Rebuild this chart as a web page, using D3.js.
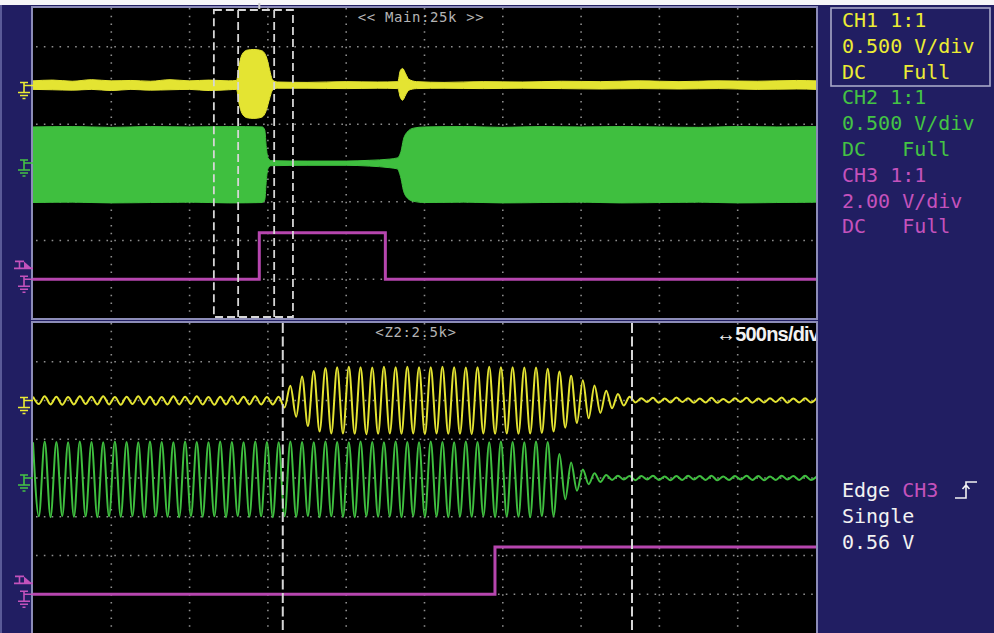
<!DOCTYPE html>
<html>
<head>
<meta charset="utf-8">
<script src="https://cdn.jsdelivr.net/npm/d3@7"></script>
<style>
  html, body { margin: 0; padding: 0; background: #ffffff; }
  svg { display: block; }
</style>
</head>
<body>
<div id="scope"></div>
<script>
// ---- data (divisions, relative to each channel's ground marker) ----
const channelOffsets = [2, 0, -3];          // CH1, CH2, CH3 ground level in div
const channelColors = ["#e4e432", "#3fbf3f", "#b646ae"];
const textColors = ["#ecec34", "#44c444", "#c452bc"];

// main (25k) window: envelopes [time div, upper, lower]
const ch1MainEnvelope = [
  [0,0.12,-0.1],[0.25,0.14,-0.11],[0.5,0.11,-0.12],[0.75,0.15,-0.1],[1,0.12,-0.13],
  [1.25,0.13,-0.1],[1.5,0.11,-0.12],[1.75,0.15,-0.11],[2,0.12,-0.1],[2.25,0.14,-0.13],
  [2.5,0.12,-0.11],[2.6,0.13,-0.1],[2.63,0.5,-0.45],[2.67,0.8,-0.72],[2.73,0.91,-0.83],
  [2.82,0.93,-0.85],[2.92,0.9,-0.82],[2.98,0.74,-0.64],[3.02,0.42,-0.35],[3.06,0.14,-0.12],
  [3.12,0.09,-0.07],[3.5,0.08,-0.07],[4,0.1,-0.08],[4.4,0.09,-0.07],[4.66,0.1,-0.08],
  [4.69,0.38,-0.3],[4.72,0.44,-0.38],[4.76,0.3,-0.24],[4.8,0.16,-0.12],[4.9,0.1,-0.08],
  [5.25,0.08,-0.07],[5.75,0.1,-0.08],[6.25,0.09,-0.07],[6.75,0.11,-0.08],[7.25,0.1,-0.09],
  [7.75,0.12,-0.08],[8.25,0.1,-0.09],[8.75,0.12,-0.08],[9.25,0.11,-0.1],[9.75,0.13,-0.09],
  [10,0.12,-0.1]
];
const ch2MainEnvelope = [
  [0,0.93,-1.02],[0.5,0.94,-1.01],[1,0.92,-1.03],[1.5,0.94,-1.02],[2,0.93,-1.01],
  [2.5,0.94,-1.03],[2.93,0.93,-1.02],[2.96,0.85,-0.95],[2.98,0.4,-0.45],[3.0,0.14,-0.15],
  [3.04,0.06,-0.07],[3.5,0.05,-0.06],[4,0.05,-0.06],[4.3,0.07,-0.08],[4.55,0.1,-0.12],
  [4.65,0.13,-0.15],[4.7,0.3,-0.4],[4.73,0.6,-0.7],[4.78,0.8,-0.9],[4.86,0.9,-0.99],
  [5,0.93,-1.02],[5.5,0.94,-1.01],[6,0.92,-1.03],[6.5,0.94,-1.02],[7,0.93,-1.01],
  [7.5,0.94,-1.03],[8,0.93,-1.02],[8.5,0.92,-1.01],[9,0.94,-1.03],[9.5,0.93,-1.02],
  [10,0.94,-1.01]
];
const ch3MainSteps = [[0,0],[2.89,1.2],[4.5,0],[10,0]];

// zoom (Z2) window: successive peaks/troughs, one every half cycle
const halfCycle = 0.0747;   // div
const ch1ZoomExtrema = [
  0.10,-0.09,0.11,-0.10,0.10,-0.11,0.09,-0.10,0.11,-0.09,
  0.10,-0.10,0.11,-0.10,0.09,-0.11,0.10,-0.09,0.11,-0.10,
  0.10,-0.11,0.09,-0.10,0.11,-0.10,0.10,-0.09,0.11,-0.10,
  0.09,-0.11,0.10,-0.10,0.11,-0.09,0.10,-0.10,0.11,-0.10,
  0.09,-0.10,0.10,
  -0.18,0.38,-0.42,0.62,-0.66,0.76,-0.80,0.84,-0.85,
  0.86,-0.85,0.87,-0.86,0.86,-0.87,0.85,-0.86,0.87,-0.85,
  0.86,-0.86,0.87,-0.85,0.86,-0.87,0.86,-0.85,0.87,-0.86,
  0.86,-0.86,0.85,-0.87,0.86,-0.85,0.87,-0.86,0.86,-0.85,
  0.86,-0.86,0.85,
  -0.85,0.85,-0.84,0.82,-0.80,0.75,-0.70,0.64,-0.58,0.52,
  -0.46,0.39,-0.32,0.25,-0.20,0.17,-0.13,0.10,
  -0.05,0.06,-0.04,0.07,-0.06,0.05,-0.05,0.08,-0.04,0.06,
  -0.06,0.05,-0.05,0.07,-0.06,0.04,-0.05,0.06,-0.04,0.07,
  -0.06,0.05,-0.05,0.06,-0.04,0.08,-0.06,0.05,-0.05,0.06,
  -0.05,0.07
];
const ch2ZoomExtrema = [
  0.92,-0.99,0.94,-1.01,0.93,-0.98,0.92,-1.0,0.94,-0.99,
  0.93,-1.01,0.92,-0.99,0.94,-1.0,0.93,-0.98,0.92,-1.01,
  0.94,-0.99,0.93,-1.0,0.92,-1.01,0.94,-0.98,0.93,-1.0,
  0.92,-0.99,0.94,-1.01,0.93,-0.98,0.92,-1.0,0.94,-0.99,
  0.93,-1.01,0.92,-0.99,0.94,-1.0,0.93,-0.98,0.92,-1.01,
  0.94,-0.99,0.93,-1.0,0.92,-1.01,0.94,-0.98,0.93,-1.0,
  0.92,-0.99,0.94,-1.01,0.93,-0.98,0.92,-1.0,0.94,-0.99,
  0.93,-1.01,0.92,-0.99,0.94,-1.0,0.93,-0.98,0.92,-1.01,
  0.94,-0.99,0.93,-1.0,0.92,-1.01,0.94,-0.98,0.93,
  -0.98,0.62,-0.55,0.40,-0.33,0.22,-0.16,0.12,-0.10,0.08,
  -0.05,0.06,-0.04,0.05,-0.06,0.05,-0.04,0.06,-0.05,0.04,
  -0.06,0.05,-0.05,0.06,-0.04,0.05,-0.05,0.06,-0.06,0.04,
  -0.05,0.05,-0.04,0.06,-0.05,0.05,-0.06,0.04,-0.05,0.06,
  -0.04,0.05,-0.05,0.06,-0.05,0.04
];
const ch3ZoomSteps = [[0,0],[5.9,1.22],[10,1.22]];

// markers on the main window (div)
const zoomBox = [2.31, 3.32];
const mainCursors = [2.62, 3.08];
const zoomCursors = [3.19, 7.65];
const triggerPos = 2.89;
const triggerLevel = 0.56;   // V
const ch3VoltsPerDiv = 2.0;

// side panel text
const channelLabels = [
  ["CH1 1:1", "0.500 V/div", "DC   Full"],
  ["CH2 1:1", "0.500 V/div", "DC   Full"],
  ["CH3 1:1", "2.00 V/div", "DC   Full"]
];
const mainLabel = "<< Main:25k >>";
const zoomLabel = "<Z2:2.5k>";
const timebaseLabel = "\u2194500ns/div";
const triggerLines = ["Single", "0.56 V"];

// ---- layout ----
const width = 994, height = 633;
const panelLeft = 33, panelRight = 816;
const panels = [
  {id: "main", top: 8, bottom: 318},
  {id: "zoom", top: 323, bottom: 633}
];

const svg = d3.select("#scope").append("svg")
  .attr("width", width).attr("height", height);

svg.append("rect").attr("width", width).attr("height", height).attr("fill", "#211e62");
svg.append("rect").attr("width", width).attr("height", 5).attr("fill", "#f6f6f8");
svg.append("rect").attr("x", 0).attr("y", 5).attr("width", 2).attr("height", height).attr("fill", "#5a5a98");

const x = d3.scaleLinear().domain([0, 10]).range([panelLeft, panelRight]);
panels.forEach(p => {
  p.y = d3.scaleLinear().domain([-4, 4]).range([p.bottom, p.top]);
});

const defs = svg.append("defs");

panels.forEach(p => {
  defs.append("clipPath").attr("id", "clip-" + p.id)
    .append("rect")
    .attr("x", panelLeft).attr("y", p.top)
    .attr("width", panelRight - panelLeft).attr("height", p.bottom - p.top);

  svg.append("rect")
    .attr("x", panelLeft - 1).attr("y", p.top - 1)
    .attr("width", panelRight - panelLeft + 2).attr("height", p.bottom - p.top + 2)
    .attr("fill", "#000")
    .attr("stroke", "#8c8cb8").attr("stroke-width", 2);

  const grid = svg.append("g").attr("clip-path", `url(#clip-${p.id})`);
  // dotted graticule
  grid.selectAll(".vgrid").data(d3.range(1, 10)).join("line")
    .attr("x1", d => x(d)).attr("x2", d => x(d))
    .attr("y1", p.top).attr("y2", p.bottom)
    .attr("stroke", "#8e8e8e").attr("stroke-width", 1.6)
    .attr("stroke-dasharray", "1.6 6.15");
  grid.selectAll(".hgrid").data(d3.range(-3, 4)).join("line")
    .attr("x1", panelLeft).attr("x2", panelRight)
    .attr("y1", d => p.y(d)).attr("y2", d => p.y(d))
    .attr("stroke", "#8e8e8e").attr("stroke-width", 1.6)
    .attr("stroke-dasharray", "1.6 6.23")
    .attr("stroke-dashoffset", -3);

  p.layer = svg.append("g").attr("clip-path", `url(#clip-${p.id})`);
});

const main = panels[0], zoom = panels[1];

// main window traces
const envArea = (off) => d3.area()
  .x(d => x(d[0]))
  .y0(d => main.y(off + d[2]))
  .y1(d => main.y(off + d[1]))
  .curve(d3.curveMonotoneX);

main.layer.append("path").datum(ch1MainEnvelope)
  .attr("d", envArea(channelOffsets[0]))
  .attr("fill", channelColors[0]).attr("stroke", channelColors[0]).attr("stroke-width", 1);
main.layer.append("path").datum(ch2MainEnvelope)
  .attr("d", envArea(channelOffsets[1]))
  .attr("fill", channelColors[1]).attr("stroke", channelColors[1]).attr("stroke-width", 1);

const stepLine = (p) => d3.line()
  .x(d => x(d[0]))
  .y(d => p.y(channelOffsets[2] + d[1]))
  .curve(d3.curveStepAfter);

main.layer.append("path").datum(ch3MainSteps)
  .attr("d", stepLine(main))
  .attr("fill", "none").attr("stroke", channelColors[2]).attr("stroke-width", 3);

// zoom window traces
const waveLine = (off) => d3.line()
  .x((d, i) => x(i * halfCycle))
  .y(d => zoom.y(off + d))
  .curve(d3.curveMonotoneX);

zoom.layer.append("path").datum(ch1ZoomExtrema)
  .attr("d", waveLine(channelOffsets[0]))
  .attr("fill", "none").attr("stroke", channelColors[0]).attr("stroke-width", 2);
zoom.layer.append("path").datum(ch2ZoomExtrema)
  .attr("d", waveLine(channelOffsets[1]))
  .attr("fill", "none").attr("stroke", channelColors[1]).attr("stroke-width", 2);
zoom.layer.append("path").datum(ch3ZoomSteps)
  .attr("d", stepLine(zoom))
  .attr("fill", "none").attr("stroke", channelColors[2]).attr("stroke-width", 3);

// dashed zoom box and cursors
const dashColor = "#d6d6d6";
main.layer.append("rect")
  .attr("x", x(zoomBox[0])).attr("y", main.top + 2)
  .attr("width", x(zoomBox[1]) - x(zoomBox[0])).attr("height", main.bottom - main.top - 3)
  .attr("fill", "none").attr("stroke", dashColor).attr("stroke-width", 1.8)
  .attr("stroke-dasharray", "8 4");
main.layer.selectAll(".cursor").data(mainCursors).join("line")
  .attr("x1", d => x(d)).attr("x2", d => x(d))
  .attr("y1", main.top + 2).attr("y2", main.bottom - 1)
  .attr("stroke", dashColor).attr("stroke-width", 1.8)
  .attr("stroke-dasharray", "8 4");
zoom.layer.selectAll(".cursor").data(zoomCursors).join("line")
  .attr("x1", d => x(d)).attr("x2", d => x(d))
  .attr("y1", zoom.top).attr("y2", zoom.bottom)
  .attr("stroke", dashColor).attr("stroke-width", 2)
  .attr("stroke-dasharray", "10 3.5");

svg.append("line")
  .attr("x1", x(triggerPos)).attr("x2", x(triggerPos))
  .attr("y1", 3).attr("y2", 9)
  .attr("stroke", "#cfcfcf").attr("stroke-width", 2);

// window titles
main.layer.append("text")
  .attr("x", 421).attr("y", 22)
  .attr("text-anchor", "middle")
  .attr("font-family", "DejaVu Sans Mono").attr("font-size", 14)
  .attr("letter-spacing", 0.6)
  .attr("fill", "#b4b4b4")
  .text(mainLabel);
zoom.layer.append("text")
  .attr("x", 416).attr("y", 337)
  .attr("text-anchor", "middle")
  .attr("font-family", "DejaVu Sans Mono").attr("font-size", 14)
  .attr("letter-spacing", 0.6)
  .attr("fill", "#b4b4b4")
  .text(zoomLabel);
zoom.layer.append("text")
  .attr("x", 716).attr("y", 341)
  .attr("font-family", "Liberation Sans Narrow, Liberation Sans").attr("font-size", 20)
  .attr("font-weight", "bold")
  .attr("letter-spacing", -0.8)
  .attr("fill", "#f2f2f2")
  .text(timebaseLabel);

// ground and trigger markers on the left
panels.forEach(p => {
  channelOffsets.forEach((off, i) => {
    const g = p.y(off);
    svg.append("path")
      .attr("d", `M20,${g - 3}H28M24,${g - 3}V${g + 7}M24,${g}H33` +
                 `M18,${g + 7}H30M20,${g + 10}H28M22.5,${g + 13}H25.5`)
      .attr("fill", "none").attr("stroke", textColors[i]).attr("stroke-width", 1.6);
  });
  const t = p.y(channelOffsets[2] + triggerLevel / ch3VoltsPerDiv);
  svg.append("path")
    .attr("d", `M15,${t - 7}H24M19.5,${t - 7}V${t}M14,${t}H33`)
    .attr("fill", "none").attr("stroke", textColors[2]).attr("stroke-width", 1.6);
  svg.append("path")
    .attr("d", `M24,${t - 7}L32,${t}L24,${t}Z`)
    .attr("fill", textColors[2]);
});

// side panel
const side = svg.append("g")
  .attr("font-family", "DejaVu Sans Mono").attr("font-size", 20);
svg.append("rect")
  .attr("x", 831).attr("y", 8).attr("width", 159).attr("height", 78)
  .attr("fill", "none").attr("stroke", "#a8a8c8").attr("stroke-width", 1.6);

channelLabels.forEach((lines, c) => {
  side.selectAll(".ch" + c).data(lines).join("text")
    .attr("x", 842)
    .attr("y", (d, j) => 27 + (c * 3 + j) * 25.8)
    .attr("fill", textColors[c])
    .attr("xml:space", "preserve")
    .style("white-space", "pre")
    .text(d => d);
});

const edgeText = side.append("text").attr("x", 842).attr("y", 497);
edgeText.append("tspan").attr("fill", "#f2f2f2").text("Edge ");
edgeText.append("tspan").attr("fill", textColors[2]).text("CH3");
side.selectAll(".trig").data(triggerLines).join("text")
  .attr("x", 842)
  .attr("y", (d, j) => 523 + j * 25.5)
  .attr("fill", "#f2f2f2")
  .text(d => d);

// rising edge icon
svg.append("path")
  .attr("d", "M955,498H966V482H977M966,494V486M962.5,489L966,485L969.5,489")
  .attr("fill", "none").attr("stroke", "#f2f2f2").attr("stroke-width", 1.6);
</script>
</body>
</html>
